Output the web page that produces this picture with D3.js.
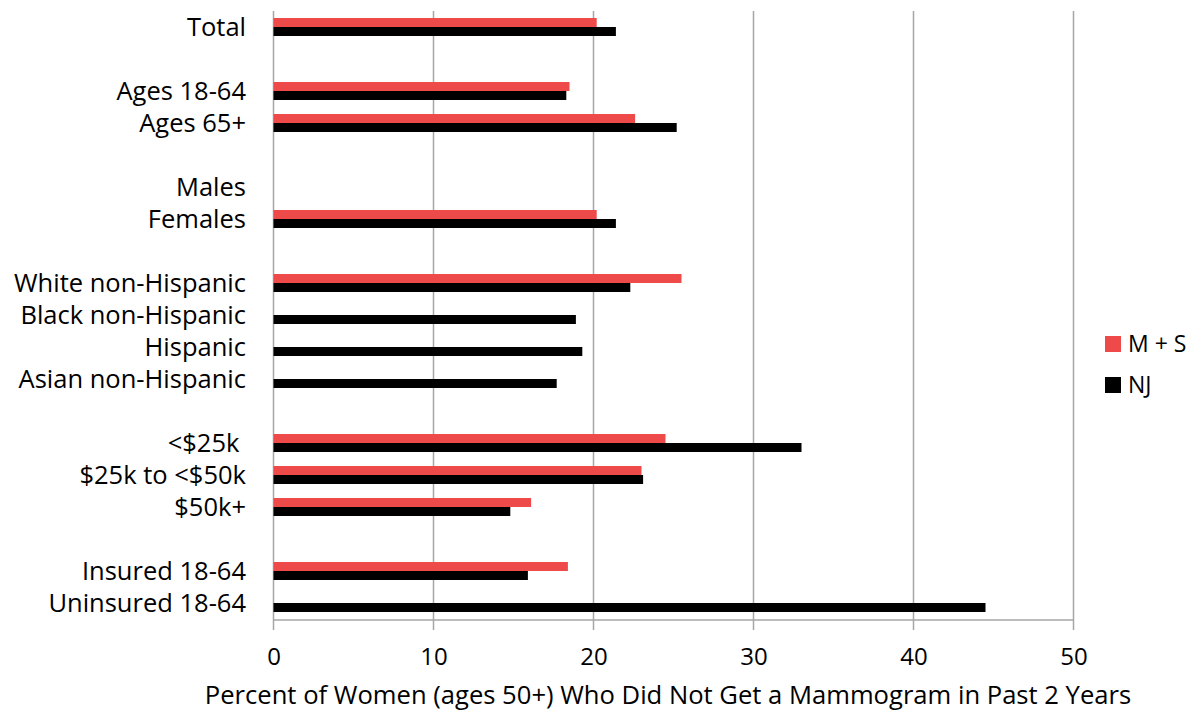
<!DOCTYPE html>
<html>
<head>
<meta charset="utf-8">
<script src="https://cdn.jsdelivr.net/npm/d3@7"></script>
<style>
  body { margin: 0; background: #fff; }
  svg { display: block; }
  text { font-family: "Open Sans", Lato, sans-serif; fill: #000; }
</style>
</head>
<body>
<svg id="chart" width="1199" height="713"></svg>
<script>
const categories = ["Total", "", "Ages 18-64", "Ages 65+", " ", "Males", "Females", "  ",
  "White non-Hispanic", "Black non-Hispanic", "Hispanic", "Asian non-Hispanic", "   ",
  "<$25k ", "$25k to <$50k", "$50k+", "    ", "Insured 18-64", "Uninsured 18-64"];
const seriesNames = ["M + S", "NJ"];
const msValues = [20.2, null, 18.5, 22.6, null, null, 20.2, null,
  25.5, null, null, null, null,
  24.5, 23.0, 16.1, null, 18.4, null];
const njValues = [21.4, null, 18.3, 25.2, null, null, 21.4, null,
  22.3, 18.9, 19.3, 17.7, null,
  33.0, 23.1, 14.8, null, 15.9, 44.5];
const xTicks = [0, 10, 20, 30, 40, 50];
const xTitle = "Percent of Women (ages 50+) Who Did Not Get a Mammogram in Past 2 Years";
const colors = ["#EF4A4A", "#000000"];

const FONT = "'Open Sans', Lato, sans-serif";
const svg = d3.select("#chart");
const m = { left: 273.5, right: 1073.5, top: 11, bottom: 620 };

const x = d3.scaleLinear().domain([0, 50]).range([m.left, m.right]);
const y = d3.scaleBand().domain(categories).range([m.top, m.bottom - 1])
  .paddingInner(0.4375).paddingOuter(0.21875);
const ySub = d3.scaleBand().domain(seriesNames).range([0, y.bandwidth()]);

// gridlines
svg.append("g").selectAll("line").data(xTicks).join("line")
  .attr("x1", d => x(d)).attr("x2", d => x(d))
  .attr("y1", m.top).attr("y2", m.bottom + 10)
  .attr("stroke", "#A6A6A6").attr("stroke-width", 1.5);

// bars
const rows = categories.map((c, i) => ({ c, vals: [msValues[i], njValues[i]] }));
const g = svg.append("g");
rows.forEach(r => {
  r.vals.forEach((v, j) => {
    if (v == null) return;
    g.append("rect")
      .attr("x", x(0))
      .attr("y", y(r.c) + ySub(seriesNames[j]))
      .attr("width", x(v) - x(0))
      .attr("height", ySub.bandwidth())
      .attr("fill", colors[j]);
  });
});

// x axis line
svg.append("line")
  .attr("x1", m.left).attr("x2", m.right)
  .attr("y1", m.bottom).attr("y2", m.bottom)
  .attr("stroke", "#A6A6A6").attr("stroke-width", 1.5);

// axis tick labels
const xAxis = d3.axisBottom(x).tickValues(xTicks).tickSize(0).tickPadding(0);
const ax = svg.append("g").attr("transform", `translate(0,${m.bottom})`).call(xAxis);
ax.select(".domain").remove();
ax.selectAll("text").attr("y", 37).attr("dy", "0.35em")
  .style("font-size", "24px").style("font-family", FONT).attr("fill", "#000");

// category labels
const yAxis = d3.axisLeft(y).tickSize(0).tickPadding(0);
const ay = svg.append("g").attr("transform", `translate(246,0)`).call(yAxis);
ay.select(".domain").remove();
ay.selectAll("text").attr("dy", "0.35em")
  .style("font-size", "25.5px").style("font-family", FONT)
  .attr("fill", "#000").attr("xml:space", "preserve").style("white-space", "pre");

// x title
svg.append("text")
  .attr("x", 668).attr("y", 704)
  .attr("text-anchor", "middle")
  .style("font-size", "25.6px")
  .text(xTitle);

// legend
const lg = svg.append("g");
seriesNames.forEach((s, i) => {
  const yy = 336 + i * 41;
  lg.append("rect").attr("x", 1105).attr("y", yy).attr("width", 16).attr("height", 16).attr("fill", colors[i]);
  lg.append("text").attr("x", 1128).attr("y", yy + 8).attr("dy", "0.35em")
    .style("font-size", "23px").text(s);
});
</script>
</body>
</html>
